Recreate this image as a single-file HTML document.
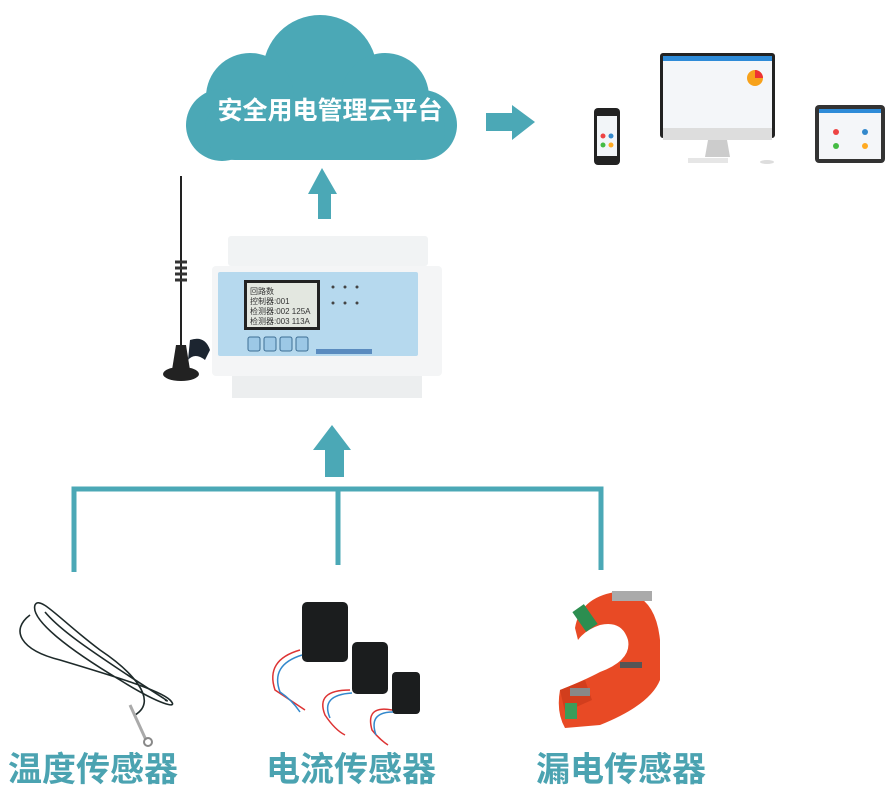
<!DOCTYPE html>
<html><head><meta charset="utf-8"><style>
html,body{margin:0;padding:0;background:#fff;width:890px;height:796px;overflow:hidden}
svg{display:block}
.lbl{font-family:"Liberation Sans","Noto Sans CJK SC",sans-serif;font-weight:bold;fill:#4ba3b1;font-size:34px}
</style></head><body>
<svg width="890" height="796" viewBox="0 0 890 796" xmlns="http://www.w3.org/2000/svg">
<!-- cloud -->
<g fill="#4ba8b6">
<circle cx="320" cy="72" r="57"/>
<circle cx="250" cy="97" r="44"/>
<circle cx="385" cy="97" r="44"/>
<circle cx="422" cy="125" r="35"/>
<circle cx="222" cy="125" r="36"/>
<rect x="205" y="100" width="240" height="60" rx="30"/>
</g>
<text x="330" y="119" text-anchor="middle" font-family="Liberation Sans,'Noto Sans CJK SC',sans-serif" font-size="25" font-weight="bold" fill="#fff">安全用电管理云平台</text>
<!-- right arrow -->
<polygon points="486,113 512,113 512,105 535,122 512,140 512,131 486,131" fill="#4ba8b6"/>
<!-- up arrow to cloud -->
<polygon points="322,168 337,194 331,194 331,219 318,219 318,194 308,194" fill="#4ba8b6"/>
<!-- lower up arrow -->
<polygon points="332,425 351,450 344,450 344,477 325,477 325,450 313,450" fill="#4ba8b6"/>
<!-- bracket -->
<g stroke="#4ba8b6" stroke-width="5" fill="none">
<polyline points="74,572 74,489 601,489 601,570"/>
<line x1="338" y1="489" x2="338" y2="565"/>
</g>
<!-- devices -->
<rect x="594" y="108" width="26" height="57" rx="4" fill="#222"/>
<rect x="597" y="116" width="20" height="40" fill="#f2f5f8"/>
<circle cx="603" cy="136" r="2.5" fill="#e44"/><circle cx="611" cy="136" r="2.5" fill="#38c"/>
<circle cx="603" cy="145" r="2.5" fill="#4b4"/><circle cx="611" cy="145" r="2.5" fill="#fa2"/>
<rect x="660" y="53" width="115" height="85" rx="3" fill="#222"/>
<rect x="663" y="56" width="109" height="72" fill="#f4f6f9"/>
<rect x="663" y="56" width="109" height="5" fill="#2e8bd8"/>
<circle cx="755" cy="78" r="8" fill="#f7a21b"/><path d="M755 78 L755 70 A8 8 0 0 1 763 78Z" fill="#e33"/>
<rect x="663" y="128" width="109" height="12" fill="#ddd"/>
<path d="M708 140 L727 140 L730 157 L705 157Z" fill="#ccc"/>
<rect x="688" y="158" width="40" height="5" fill="#e6e6e6"/>
<ellipse cx="767" cy="162" rx="7" ry="2" fill="#ddd"/>
<rect x="815" y="105" width="70" height="58" rx="4" fill="#333"/>
<rect x="819" y="109" width="62" height="50" fill="#f4f6f9"/>
<rect x="819" y="109" width="62" height="4" fill="#2e8bd8"/>
<circle cx="836" cy="132" r="3" fill="#e44"/><circle cx="865" cy="132" r="3" fill="#38c"/>
<circle cx="836" cy="146" r="3" fill="#4b4"/><circle cx="865" cy="146" r="3" fill="#fa2"/>
<!-- antenna -->
<line x1="181" y1="176" x2="181" y2="370" stroke="#222" stroke-width="2"/>
<g stroke="#333" stroke-width="3"><line x1="175" y1="262" x2="187" y2="262"/><line x1="175" y1="268" x2="187" y2="268"/><line x1="175" y1="274" x2="187" y2="274"/><line x1="175" y1="280" x2="187" y2="280"/></g>
<path d="M176 345 L186 345 L190 370 L172 370Z" fill="#222"/>
<ellipse cx="181" cy="374" rx="18" ry="7" fill="#222"/>
<path d="M190 340 Q205 335 210 350 L205 360 Q195 352 188 360Z" fill="#1c2530"/>
<!-- controller -->
<rect x="228" y="236" width="200" height="30" rx="3" fill="#f1f3f4"/>
<rect x="212" y="266" width="230" height="110" rx="4" fill="#f4f5f6"/>
<rect x="232" y="376" width="190" height="22" fill="#eceeef"/>
<rect x="218" y="272" width="200" height="84" rx="2" fill="#b6d9ee"/>
<rect x="244" y="280" width="76" height="50" fill="#222"/>
<rect x="247" y="283" width="70" height="44" fill="#e3e7e0"/>
<g font-family="Liberation Sans,'Noto Sans CJK SC',sans-serif" font-size="8" fill="#333">
<text x="250" y="294">回路数</text><text x="250" y="304">控制器:001</text><text x="250" y="314">检测器:002   125A</text><text x="250" y="324">检测器:003   113A</text></g>
<g fill="#444"><circle cx="333" cy="287" r="1.5"/><circle cx="345" cy="287" r="1.5"/><circle cx="357" cy="287" r="1.5"/><circle cx="333" cy="303" r="1.5"/><circle cx="345" cy="303" r="1.5"/><circle cx="357" cy="303" r="1.5"/></g>
<g fill="#9cc8e6" stroke="#3d6e94" stroke-width="1"><rect x="248" y="337" width="12" height="14" rx="2"/><rect x="264" y="337" width="12" height="14" rx="2"/><rect x="280" y="337" width="12" height="14" rx="2"/><rect x="296" y="337" width="12" height="14" rx="2"/></g>
<rect x="316" y="349" width="56" height="5" fill="#5a8bbf"/>
<!-- temperature sensor -->
<g fill="none" stroke="#1e2a2a" stroke-width="1.6">
<path d="M30 615 C10 630,20 650,60 660 C110 675,160 690,170 700 C180 710,160 705,120 680 C70 650,30 620,35 605 C40 595,60 620,100 650 C130 670,160 700,135 715"/>
<path d="M45 612 C60 630,90 650,120 670 C150 690,175 705,165 700"/>
</g>
<line x1="130" y1="705" x2="146" y2="740" stroke="#aaa" stroke-width="3"/>
<circle cx="148" cy="742" r="4" fill="none" stroke="#888" stroke-width="2"/>
<!-- current sensors -->
<g fill="#1b1d1e">
<rect x="302" y="602" width="46" height="60" rx="5"/>
<rect x="352" y="642" width="36" height="52" rx="5"/>
<rect x="392" y="672" width="28" height="42" rx="4"/>
</g>
<g fill="none" stroke-width="1.5">
<path d="M300 650 Q265 660 275 690 Q290 700 305 710" stroke="#d33"/>
<path d="M302 655 Q270 665 280 692 Q292 700 300 712" stroke="#38c"/>
<path d="M350 690 Q315 690 325 715 Q335 730 345 735" stroke="#d33"/>
<path d="M352 693 Q320 695 330 718" stroke="#38c"/>
<path d="M392 710 Q365 705 372 730 Q380 740 388 745" stroke="#d33"/>
<path d="M393 712 Q368 712 376 735" stroke="#38c"/>
</g>
<!-- leakage sensor (C-shape open to left) -->
<path d="M575 628 Q580 598 615 592 Q655 590 660 640 L660 680 Q650 705 600 725 L565 728 Q556 712 560 690 Q585 680 600 672 Q632 660 628 640 Q622 620 600 625 Q585 630 578 640Z" fill="#e84a25"/>
<path d="M560 690 L585 680 L592 700 L565 712Z" fill="#d23e1d"/>
<rect x="612" y="591" width="40" height="10" fill="#aaa"/>
<rect x="578" y="606" width="14" height="24" fill="#2c8e50" transform="rotate(-35 585 618)"/>
<rect x="565" y="703" width="12" height="16" fill="#3a9c5a"/>
<rect x="570" y="688" width="20" height="8" fill="#888"/>
<rect x="620" y="662" width="22" height="6" fill="#555"/>
<!-- labels -->
<text class="lbl" x="8" y="781">温度传感器</text>
<text class="lbl" x="266" y="781">电流传感器</text>
<text class="lbl" x="536" y="781">漏电传感器</text>
</svg>
</body></html>
